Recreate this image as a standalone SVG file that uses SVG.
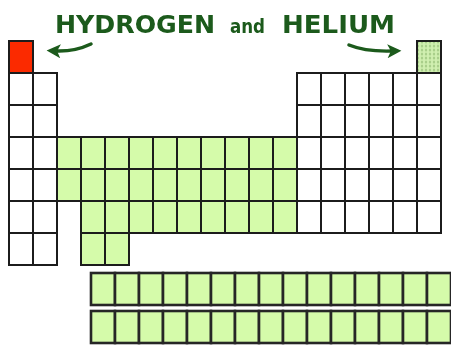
<svg xmlns="http://www.w3.org/2000/svg" width="451" height="345" viewBox="0 0 451 345">
<style>
.w{fill:#ffffff;stroke:#1c1c1c;stroke-width:2}
.g{fill:#d5fbaa;stroke:#1c1c1c;stroke-width:2}
.gb{fill:#d5fbaa;stroke:#262626;stroke-width:2.6}
.t{fill:#1a5a1a;font-family:"DejaVu Sans Condensed","DejaVu Sans",sans-serif;font-weight:bold}
.ar{fill:none;stroke:#1a5a1a;stroke-width:3.5;stroke-linecap:round}
</style>
<defs>
<pattern id="dots" width="4" height="4" patternUnits="userSpaceOnUse">
<rect width="4" height="4" fill="#d0efb0"/>
<ellipse cx="2" cy="2" rx="1.2" ry="1.6" fill="#a9cf8a"/>
</pattern>
<marker id="head" viewBox="0 0 10 10" refX="4" refY="5" markerWidth="4.4" markerHeight="4" orient="auto" markerUnits="strokeWidth">
<path d="M0,0 L10,5 L0,10 L2.5,5 Z" fill="#1a5a1a"/>
</marker>
<filter id="soft" filterUnits="userSpaceOnUse" x="0" y="0" width="451" height="100"><feGaussianBlur stdDeviation="0.45"/></filter>
</defs>

<g id="title" filter="url(#soft)">
<text class="t" x="55" y="33" font-size="24" textLength="160" lengthAdjust="spacingAndGlyphs">HYDROGEN</text>
<text class="t" x="230" y="33" font-size="19" textLength="35" lengthAdjust="spacingAndGlyphs">and</text>
<text class="t" x="282" y="33" font-size="24" textLength="113" lengthAdjust="spacingAndGlyphs">HELIUM</text>
</g>

<g id="connectors" filter="url(#soft)">
<path class="ar" d="M91,44 Q74,52 55,51" marker-end="url(#head)"/>
<path class="ar" d="M349,45 Q366,52 393,51" marker-end="url(#head)"/>
</g>

<g id="hydrogen"><rect x="9" y="41" width="24" height="32" fill="#fb2a00" stroke="#1c1c1c" stroke-width="2"/></g>
<g id="helium"><rect x="417" y="41" width="24" height="32" fill="url(#dots)" stroke="#1c1c1c" stroke-width="2"/></g>

<g id="s-block">
<rect class="w" x="9" y="73" width="24" height="32"/><rect class="w" x="33" y="73" width="24" height="32"/>
<rect class="w" x="9" y="105" width="24" height="32"/><rect class="w" x="33" y="105" width="24" height="32"/>
<rect class="w" x="9" y="137" width="24" height="32"/><rect class="w" x="33" y="137" width="24" height="32"/>
<rect class="w" x="9" y="169" width="24" height="32"/><rect class="w" x="33" y="169" width="24" height="32"/>
<rect class="w" x="9" y="201" width="24" height="32"/><rect class="w" x="33" y="201" width="24" height="32"/>
<rect class="w" x="9" y="233" width="24" height="32"/><rect class="w" x="33" y="233" width="24" height="32"/>
</g>

<g id="d-block">
<rect class="g" x="57" y="137" width="24" height="32"/><rect class="g" x="81" y="137" width="24" height="32"/><rect class="g" x="105" y="137" width="24" height="32"/><rect class="g" x="129" y="137" width="24" height="32"/><rect class="g" x="153" y="137" width="24" height="32"/><rect class="g" x="177" y="137" width="24" height="32"/><rect class="g" x="201" y="137" width="24" height="32"/><rect class="g" x="225" y="137" width="24" height="32"/><rect class="g" x="249" y="137" width="24" height="32"/><rect class="g" x="273" y="137" width="24" height="32"/>
<rect class="g" x="57" y="169" width="24" height="32"/><rect class="g" x="81" y="169" width="24" height="32"/><rect class="g" x="105" y="169" width="24" height="32"/><rect class="g" x="129" y="169" width="24" height="32"/><rect class="g" x="153" y="169" width="24" height="32"/><rect class="g" x="177" y="169" width="24" height="32"/><rect class="g" x="201" y="169" width="24" height="32"/><rect class="g" x="225" y="169" width="24" height="32"/><rect class="g" x="249" y="169" width="24" height="32"/><rect class="g" x="273" y="169" width="24" height="32"/>
<rect class="g" x="81" y="201" width="24" height="32"/><rect class="g" x="105" y="201" width="24" height="32"/><rect class="g" x="129" y="201" width="24" height="32"/><rect class="g" x="153" y="201" width="24" height="32"/><rect class="g" x="177" y="201" width="24" height="32"/><rect class="g" x="201" y="201" width="24" height="32"/><rect class="g" x="225" y="201" width="24" height="32"/><rect class="g" x="249" y="201" width="24" height="32"/><rect class="g" x="273" y="201" width="24" height="32"/>
<rect class="g" x="81" y="233" width="24" height="32"/><rect class="g" x="105" y="233" width="24" height="32"/>
</g>

<g id="p-block">
<rect class="w" x="297" y="73" width="24" height="32"/><rect class="w" x="321" y="73" width="24" height="32"/><rect class="w" x="345" y="73" width="24" height="32"/><rect class="w" x="369" y="73" width="24" height="32"/><rect class="w" x="393" y="73" width="24" height="32"/><rect class="w" x="417" y="73" width="24" height="32"/>
<rect class="w" x="297" y="105" width="24" height="32"/><rect class="w" x="321" y="105" width="24" height="32"/><rect class="w" x="345" y="105" width="24" height="32"/><rect class="w" x="369" y="105" width="24" height="32"/><rect class="w" x="393" y="105" width="24" height="32"/><rect class="w" x="417" y="105" width="24" height="32"/>
<rect class="w" x="297" y="137" width="24" height="32"/><rect class="w" x="321" y="137" width="24" height="32"/><rect class="w" x="345" y="137" width="24" height="32"/><rect class="w" x="369" y="137" width="24" height="32"/><rect class="w" x="393" y="137" width="24" height="32"/><rect class="w" x="417" y="137" width="24" height="32"/>
<rect class="w" x="297" y="169" width="24" height="32"/><rect class="w" x="321" y="169" width="24" height="32"/><rect class="w" x="345" y="169" width="24" height="32"/><rect class="w" x="369" y="169" width="24" height="32"/><rect class="w" x="393" y="169" width="24" height="32"/><rect class="w" x="417" y="169" width="24" height="32"/>
<rect class="w" x="297" y="201" width="24" height="32"/><rect class="w" x="321" y="201" width="24" height="32"/><rect class="w" x="345" y="201" width="24" height="32"/><rect class="w" x="369" y="201" width="24" height="32"/><rect class="w" x="393" y="201" width="24" height="32"/><rect class="w" x="417" y="201" width="24" height="32"/>
</g>

<g id="lanthanides">
<rect class="gb" x="91" y="273" width="24" height="32"/><rect class="gb" x="115" y="273" width="24" height="32"/><rect class="gb" x="139" y="273" width="24" height="32"/><rect class="gb" x="163" y="273" width="24" height="32"/><rect class="gb" x="187" y="273" width="24" height="32"/><rect class="gb" x="211" y="273" width="24" height="32"/><rect class="gb" x="235" y="273" width="24" height="32"/><rect class="gb" x="259" y="273" width="24" height="32"/><rect class="gb" x="283" y="273" width="24" height="32"/><rect class="gb" x="307" y="273" width="24" height="32"/><rect class="gb" x="331" y="273" width="24" height="32"/><rect class="gb" x="355" y="273" width="24" height="32"/><rect class="gb" x="379" y="273" width="24" height="32"/><rect class="gb" x="403" y="273" width="24" height="32"/><rect class="gb" x="427" y="273" width="24" height="32"/>
</g>

<g id="actinides">
<rect class="gb" x="91" y="311" width="24" height="32"/><rect class="gb" x="115" y="311" width="24" height="32"/><rect class="gb" x="139" y="311" width="24" height="32"/><rect class="gb" x="163" y="311" width="24" height="32"/><rect class="gb" x="187" y="311" width="24" height="32"/><rect class="gb" x="211" y="311" width="24" height="32"/><rect class="gb" x="235" y="311" width="24" height="32"/><rect class="gb" x="259" y="311" width="24" height="32"/><rect class="gb" x="283" y="311" width="24" height="32"/><rect class="gb" x="307" y="311" width="24" height="32"/><rect class="gb" x="331" y="311" width="24" height="32"/><rect class="gb" x="355" y="311" width="24" height="32"/><rect class="gb" x="379" y="311" width="24" height="32"/><rect class="gb" x="403" y="311" width="24" height="32"/><rect class="gb" x="427" y="311" width="24" height="32"/>
</g>
</svg>
